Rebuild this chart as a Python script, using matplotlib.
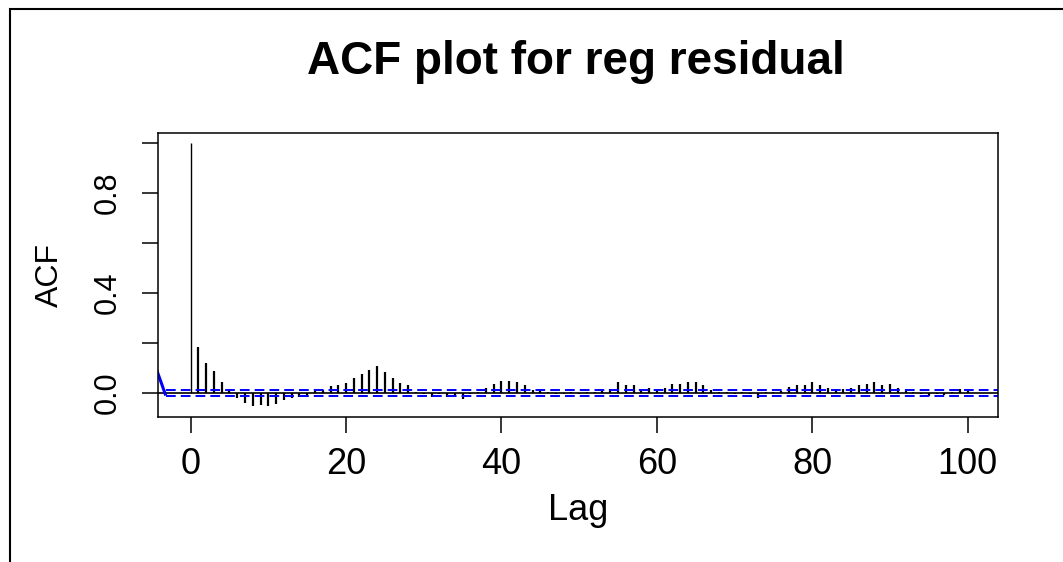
import matplotlib
matplotlib.use("Agg")
import matplotlib.pyplot as plt
from matplotlib.patches import Rectangle

plt.rcParams['font.family'] = ['Liberation Sans', 'DejaVu Sans']

# autocorrelation of the regression residual, lags 0..100
lags = list(range(0, 101))
acf_vals = [
    1.000, 0.183, 0.120, 0.089, 0.044, 0.007, -0.020, -0.040, -0.052, -0.049,
    -0.053, -0.042, -0.028, -0.018, -0.014, -0.016, 0.010, 0.013, 0.027, 0.034,
    0.040, 0.059, 0.077, 0.091, 0.107, 0.083, 0.059, 0.039, 0.033, 0.004,
    -0.003, -0.016, -0.004, -0.015, -0.014, -0.022, -0.004, 0.006, 0.019, 0.038,
    0.050, 0.050, 0.044, 0.031, 0.013, 0.009, 0.006, -0.003, -0.004, 0.004,
    -0.005, 0.004, 0.005, 0.008, 0.017, 0.043, 0.034, 0.033, 0.017, 0.020,
    0.016, 0.021, 0.036, 0.037, 0.044, 0.044, 0.032, 0.012, 0.004, 0.003,
    -0.003, 0.003, -0.004, -0.020, 0.005, 0.003, 0.009, 0.023, 0.031, 0.031,
    0.044, 0.031, 0.020, 0.016, 0.016, 0.020, 0.031, 0.036, 0.044, 0.033,
    0.037, 0.020, 0.008, 0.003, -0.003, -0.013, -0.003, -0.006, 0.003, 0.017,
    0.009,
]
conf_bound = 0.011
# stray blue segment at the left edge
edge_x = [-4.4, -3.2]
edge_y = [0.095, -0.010]

xticks = [0, 20, 40, 60, 80, 100]
yticks = [0.0, 0.2, 0.4, 0.6, 0.8, 1.0]
ytick_labels = ['0.0', '', '0.4', '', '0.8', '']

W, H = 1063, 562
fig = plt.figure(figsize=(W / 100, H / 100), dpi=100, facecolor='w')
ax = fig.add_axes([158 / W, 1 - 417 / H, 840 / W, 284 / H])

xmin, xmax = -4.2, 103.9
ax.vlines(lags[:1], 0, acf_vals[:1], color='k', lw=1.0)
ax.vlines(lags[1:], 0, acf_vals[1:], color='k', lw=1.6)
ax.axhline(0, color='k', lw=1.2)
ax.plot(edge_x, edge_y, color='#0000ff', lw=2.2, solid_capstyle='butt')
for c in (conf_bound, -conf_bound):
    ax.hlines(c, edge_x[1], xmax, colors='#0000ff', lw=1.4,
              linestyles=[(0, (5.0, 2.6))])

ax.set_xlim(xmin, xmax)
ax.set_ylim(-0.096, 1.04)
ax.set_xticks(xticks)
ax.set_yticks(yticks)
ax.set_yticklabels(ytick_labels, rotation=90, va='center')
ax.tick_params(direction='out', length=11.5, width=1.1, color='k')
ax.tick_params(axis='x', pad=10, labelsize=26)
ax.tick_params(axis='y', pad=14, labelsize=22)
for s in ax.spines.values():
    s.set_linewidth(1.1)

fig.text(576 / W, 1 - 62 / H, 'ACF plot for reg residual', ha='center', va='center',
         fontsize=33, fontweight='bold')
fig.text(578 / W, 1 - 510 / H, 'Lag', ha='center', va='center', fontsize=26)
fig.text(50 / W, 1 - 275 / H, 'ACF', ha='center', va='center', fontsize=23, rotation=90)

# outer device frame, cut off at right and bottom
fig.patches.append(Rectangle((9.5 / W, -0.1), 1.2, 553.5 / H + 0.1,
                             transform=fig.transFigure, fill=False, lw=1.5, ec='k'))

fig.savefig('out.png', dpi=100)
